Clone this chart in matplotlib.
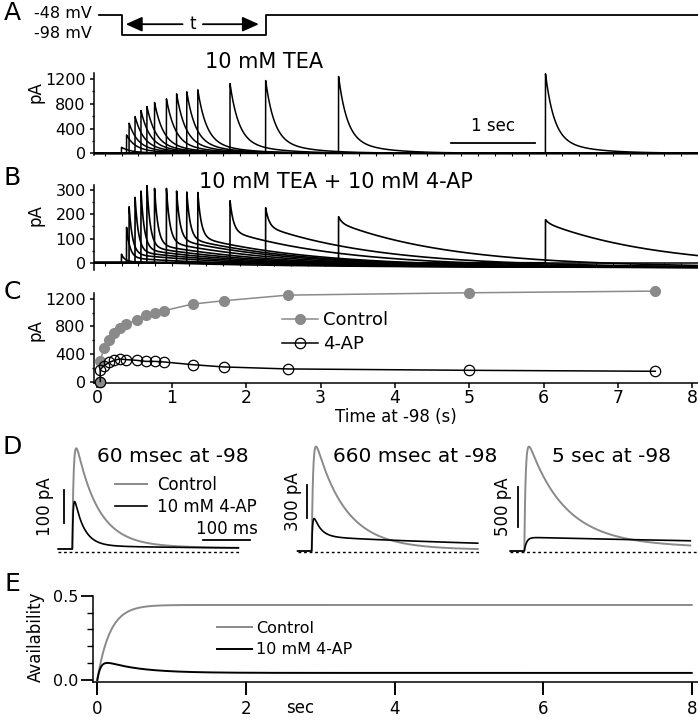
import numpy as np
import matplotlib
matplotlib.use('Agg')
import matplotlib.pyplot as plt
from matplotlib.ticker import MultipleLocator

# ---------------- data ----------------
# Panel A/B : recovery traces (times of return to -48 mV, s)
trace_times = [0.0, 0.06, 0.09, 0.16, 0.23, 0.30, 0.39, 0.53, 0.65, 0.77, 0.90, 1.28, 1.70, 2.56, 5.0]
tea_peaks = [97, 296, 486, 593, 690, 755, 820, 880, 960, 993, 1025, 1125, 1175, 1240, 1285]
ap_peaks = [35, 146, 231, 270, 296, 321, 307, 307, 296, 292, 290, 256, 227, 190, 178]
ap_slow = [5, 20, 35, 45, 55, 65, 75, 85, 95, 100, 105, 130, 150, 165, 165]
tea_tau_fast, tea_tau_slow, tea_slow_frac = 0.10, 0.40, 0.20
ap_tau_fast, ap_tau_slow = 0.04, 1.3
ap_drift, ap_drift_tau = -20.0, 2.0

# protocol
proto_t = [-0.27, 0.0, 0.0, 1.70, 1.70, 6.8]
proto_v = [-48, -48, -98, -98, -48, -48]

# Panel C : peak current vs time at -98 mV
c_time = [0.04, 0.04, 0.09, 0.16, 0.23, 0.30, 0.39, 0.53, 0.65, 0.77, 0.90, 1.28, 1.70, 2.56, 5.0, 7.5]
c_control = [0, 303, 486, 606, 703, 775, 833, 895, 967, 1001, 1030, 1126, 1174, 1256, 1290, 1314]
c_4ap = [0, 173, 231, 279, 308, 328, 318, 308, 293, 293, 284, 245, 212, 183, 163, 149]

# Panel D : example traces (ms, pA)
d_titles = ['60 msec at -98', '660 msec at -98', '5 sec at -98']
d_ctrl_peak = [308, 940, 1286]
d_ctrl_tau = [46, 62, 75]
d_ctrl_tail = [0.03, 0.04, 0.09]
d_ctrl_tail_tau = [300, 300, 400]
d_ap_peak = [145, 292, 165]
d_ap_fast = [140, 200, 0]
d_ap_fast_tau = [20, 15, 10]
d_ap_slow = [8, 100, 165]
d_ap_slow_tau = [300, 570, 1200]
d_scale_pa = [100, 300, 500]

# Panel E : availability model
e_ctrl_ss, e_ctrl_tau = 0.445, 0.17
e_ap_ss, e_ap_amp, e_ap_tau_d, e_ap_tau_r = 0.042, 0.09, 0.45, 0.05

GRAY = '#8a8a8a'
plt.rcParams['font.family'] = ['DejaVu Sans']
PT = 0.72  # points per pixel at 100 dpi

W, H = 698, 720
fig = plt.figure(figsize=(W / 100, H / 100), dpi=100)


def add_ax(x0, y0, x1, y1):
    return fig.add_axes([x0 / W, 1 - y1 / H, (x1 - x0) / W, (y1 - y0) / H])


def ftext(x, y, s, **kw):
    fig.text(x / W, 1 - y / H, s, **kw)


def style(ax):
    for s in ['top', 'right']:
        ax.spines[s].set_visible(False)
    for s in ['left', 'bottom']:
        ax.spines[s].set_linewidth(1.1)


TICKFS = 11.5
# ---------------- panel A protocol ----------------
a_xlim = ((94 - 121.5) / 84.8, (698 - 121.5) / 84.8)
axp = add_ax(94, 5, 698, 45)
axp.set_xlim(a_xlim)
axp.set_ylim(-123, -23)
axp.axis('off')
axp.plot(proto_t, proto_v, color='k', lw=1.3, clip_on=False)
axp.annotate('', xy=(0.05, -71), xytext=(0.72, -71),
             arrowprops=dict(arrowstyle='-|>,head_length=1.0,head_width=0.45', color='k', lw=1.3, shrinkA=0, shrinkB=0))
axp.annotate('', xy=(1.62, -71), xytext=(0.96, -71),
             arrowprops=dict(arrowstyle='-|>,head_length=1.0,head_width=0.45', color='k', lw=1.3, shrinkA=0, shrinkB=0))
axp.text(0.84, -71, 't', ha='center', va='center', fontsize=12)
ftext(92, 13, '-48 mV', ha='right', va='center', fontsize=11.5)
ftext(92, 33, '-98 mV', ha='right', va='center', fontsize=11.5)

# ---------------- panel A traces ----------------
t = np.arange(-0.33, 6.8, 0.001)
axA = add_ax(94, 72.5, 698, 155)
style(axA)
axA.set_xlim(a_xlim)
axA.set_ylim(-27.5, 1305)
axA.spines['bottom'].set_position(('data', 0))
for ti, pk in zip(trace_times, tea_peaks):
    dt = t - ti
    d = np.clip(dt, 0, None)
    y = np.where(dt >= 0, pk * ((1 - tea_slow_frac) * np.exp(-d / tea_tau_fast)
                                + tea_slow_frac * np.exp(-d / tea_tau_slow)), 0.0)
    axA.plot(t, y, color='k', lw=1.1)
axA.set_yticks([0, 400, 800, 1200])
axA.yaxis.set_minor_locator(MultipleLocator(200))
axA.xaxis.set_major_locator(MultipleLocator(0.2))
axA.set_xticklabels([])
axA.tick_params(axis='y', labelsize=TICKFS, length=4 * PT, width=1.1, pad=3)
axA.tick_params(axis='y', which='minor', length=2 * PT, width=1.0)
axA.tick_params(axis='x', length=3 * PT, width=0.8)
axA.plot([3.88, 4.88], [171, 171], color='k', lw=1.3)
axA.text(4.38, 290, '1 sec', ha='center', va='bottom', fontsize=12)
ftext(36, 92, 'pA', rotation=90, ha='center', va='center', fontsize=12)
ftext(264, 62, '10 mM TEA', ha='center', va='center', fontsize=15)

# ---------------- panel B traces ----------------
axB = add_ax(94, 185, 698, 270)
style(axB)
axB.set_xlim(a_xlim)
axB.set_ylim(-30, 321)
axB.spines['bottom'].set_position(('data', 0))
for ti, pk, sl in zip(trace_times, ap_peaks, ap_slow):
    dt = t - ti
    d = np.clip(dt, 0, None)
    y = np.where(dt >= 0, (pk - sl) * np.exp(-d / ap_tau_fast) + sl * np.exp(-d / ap_tau_slow)
                 + ap_drift * (1 - np.exp(-d / ap_drift_tau)), 0.0)
    axB.plot(t, y, color='k', lw=1.2)
axB.set_yticks([0, 100, 200, 300])
axB.yaxis.set_minor_locator(MultipleLocator(50))
axB.xaxis.set_major_locator(MultipleLocator(0.2))
axB.set_xticklabels([])
axB.tick_params(axis='y', labelsize=TICKFS, length=4 * PT, width=1.1, pad=3)
axB.tick_params(axis='y', which='minor', length=2 * PT, width=1.0)
axB.tick_params(axis='x', length=3 * PT, width=0.8)
ftext(36, 215, 'pA', rotation=90, ha='center', va='center', fontsize=12)
ftext(336, 182, '10 mM TEA + 10 mM 4-AP', ha='center', va='center', fontsize=15)

# ---------------- panel C ----------------
axC = add_ax(94, 292.7, 698, 382.7)
style(axC)
axC.set_xlim((94 - 97.3) / 74.4, (698 - 97.3) / 74.4)
axC.set_ylim(-17, 1291)
axC.plot(c_time, c_control, '-o', color=GRAY, mfc=GRAY, mec=GRAY, ms=7, lw=1.1, label='Control', clip_on=False, zorder=3)
axC.plot(c_time, c_4ap, '-o', color='k', mfc='none', mec='k', ms=7.5, mew=0.9, lw=1.1, label='4-AP', clip_on=False, zorder=4)
axC.set_yticks([0, 400, 800, 1200])
axC.yaxis.set_minor_locator(MultipleLocator(200))
axC.set_xticks(range(0, 9))
axC.tick_params(axis='y', labelsize=TICKFS, length=4 * PT, width=1.1, pad=3)
axC.tick_params(axis='y', which='minor', length=2 * PT, width=1.0)
axC.tick_params(axis='x', labelsize=12.5, length=4.5 * PT, width=1.1, pad=1.5)
ftext(396, 417, 'Time at -98 (s)', ha='center', va='center', fontsize=12)
ftext(36, 330, 'pA', rotation=90, ha='center', va='center', fontsize=12)
axC.legend(loc='upper left', bbox_to_anchor=(282 / W, 1 - 311 / H), bbox_transform=fig.transFigure,
           frameon=False, fontsize=13, handlelength=2.0, handletextpad=0.25, labelspacing=0.35,
           borderpad=0, borderaxespad=0)

# ---------------- panel D ----------------
d_px = [(40, 260, 72.3, 549, 0.327), (280, 480, 311.7, 551, 0.1111), (490, 698, 524.3, 551, 0.0812)]
d_title_x = [172.5, 414.7, 611]
d_bar_px = [(64.3, 490, 522.7), (306.7, 485, 518.3), (517.7, 486.7, 527.3)]
d_lbl_px = [45, 293.3, 503.3]
tm = np.arange(-30, 356, 0.5)
for i in range(3):
    x0, x1, on, base, sc = d_px[i]
    ax = add_ax(x0, 440, x1, 565)
    ax.set_xlim((x0 - on) / 0.467, (x1 - on) / 0.467)
    ax.set_ylim((base - 565) / sc, (base - 440) / sc)
    ax.axis('off')
    d = np.clip(tm, 0, None)
    rise = np.where(tm >= 0, 1 - np.exp(-d / 3.0), 0.0)
    ctrl = rise * ((1 - d_ctrl_tail[i]) * np.exp(-d / d_ctrl_tau[i]) + d_ctrl_tail[i] * np.exp(-d / d_ctrl_tail_tau[i]))
    ctrl = d_ctrl_peak[i] * ctrl / ctrl.max()
    rise2 = np.where(tm >= 0, 1 - np.exp(-d / (2.0 if i < 2 else 5.0)), 0.0)
    apc = rise2 * (d_ap_fast[i] * np.exp(-d / d_ap_fast_tau[i]) + d_ap_slow[i] * np.exp(-d / d_ap_slow_tau[i]))
    apc = d_ap_peak[i] * apc / apc.max()
    ax.plot(tm, ctrl, color=GRAY, lw=1.4, label='Control')
    ax.plot(tm, apc, color='k', lw=1.2, label='10 mM 4-AP')
    dl = (base - 551.5) / sc
    ax.plot([-30, 372 if i == 2 else 358], [dl, dl], color='k', lw=1.0, ls=(0, (2, 2)))
    bx, by0, by1 = d_bar_px[i]
    ax.plot([(bx - on) / 0.467] * 2, [(base - by1) / sc, (base - by0) / sc], color='k', lw=1.3)
    ax.text((d_lbl_px[i] - on) / 0.467, (base - (by0 + by1) / 2) / sc, f'{d_scale_pa[i]} pA',
            rotation=90, ha='center', va='center', fontsize=12)
    ftext(d_title_x[i], 457, d_titles[i], ha='center', va='center', fontsize=14.5)
    if i == 0:
        ax.plot([(203.3 - on) / 0.467, (250 - on) / 0.467], [(base - 540) / sc] * 2, color='k', lw=1.3)
        ax.text((226.6 - on) / 0.467, (base - 538) / sc, '100 ms', ha='center', va='bottom', fontsize=12)
        ax.legend(loc='upper left', bbox_to_anchor=(115 / W, 1 - 476 / H), bbox_transform=fig.transFigure,
                  frameon=False, fontsize=12, handlelength=1.9, handletextpad=0.6, labelspacing=0.25,
                  borderpad=0, borderaxespad=0)

# ---------------- panel E ----------------
axE = add_ax(93.3, 595.7, 698, 681.7)
style(axE)
axE.set_xlim((93.3 - 97.3) / 74.3, (698 - 97.3) / 74.3)
axE.set_ylim(-0.0101, 0.5)
te = np.arange(0, 8.0005, 0.002)
e_ctrl = e_ctrl_ss * (1 - np.exp(-te / e_ctrl_tau))
e_ap = (1 - np.exp(-te / e_ap_tau_r)) * (e_ap_ss + e_ap_amp * np.exp(-te / e_ap_tau_d))
axE.plot(te, e_ctrl, color=GRAY, lw=1.4, label='Control')
axE.plot(te, e_ap, color='k', lw=1.4, label='10 mM 4-AP')
axE.set_yticks([0.0, 0.5])
axE.set_yticklabels(['0.0', '0.5'])
axE.yaxis.set_minor_locator(MultipleLocator(0.1))
axE.set_xticks([0, 2, 4, 6, 8])
axE.tick_params(axis='y', labelsize=TICKFS, length=12 * PT, width=1.3, pad=2)
axE.tick_params(axis='y', which='minor', length=6 * PT, width=1.0)
axE.tick_params(axis='x', labelsize=12, length=13 * PT, width=1.4, pad=4)
ftext(300, 708, 'sec', ha='center', va='center', fontsize=12)
ftext(36, 637, 'Availability', rotation=90, ha='center', va='center', fontsize=12)
axE.legend(loc='upper left', bbox_to_anchor=(216.5 / W, 1 - 621 / H), bbox_transform=fig.transFigure,
           frameon=False, fontsize=11.5, handlelength=2.2, handletextpad=0.3, labelspacing=0.4,
           borderpad=0, borderaxespad=0)

# panel letters
for L, (x, y) in zip('ABCDE', [(12, 13), (12, 178), (12, 292), (12, 447), (12, 584)]):
    ftext(x, y, L, ha='center', va='center', fontsize=18)

fig.savefig('out.png', dpi=100)
